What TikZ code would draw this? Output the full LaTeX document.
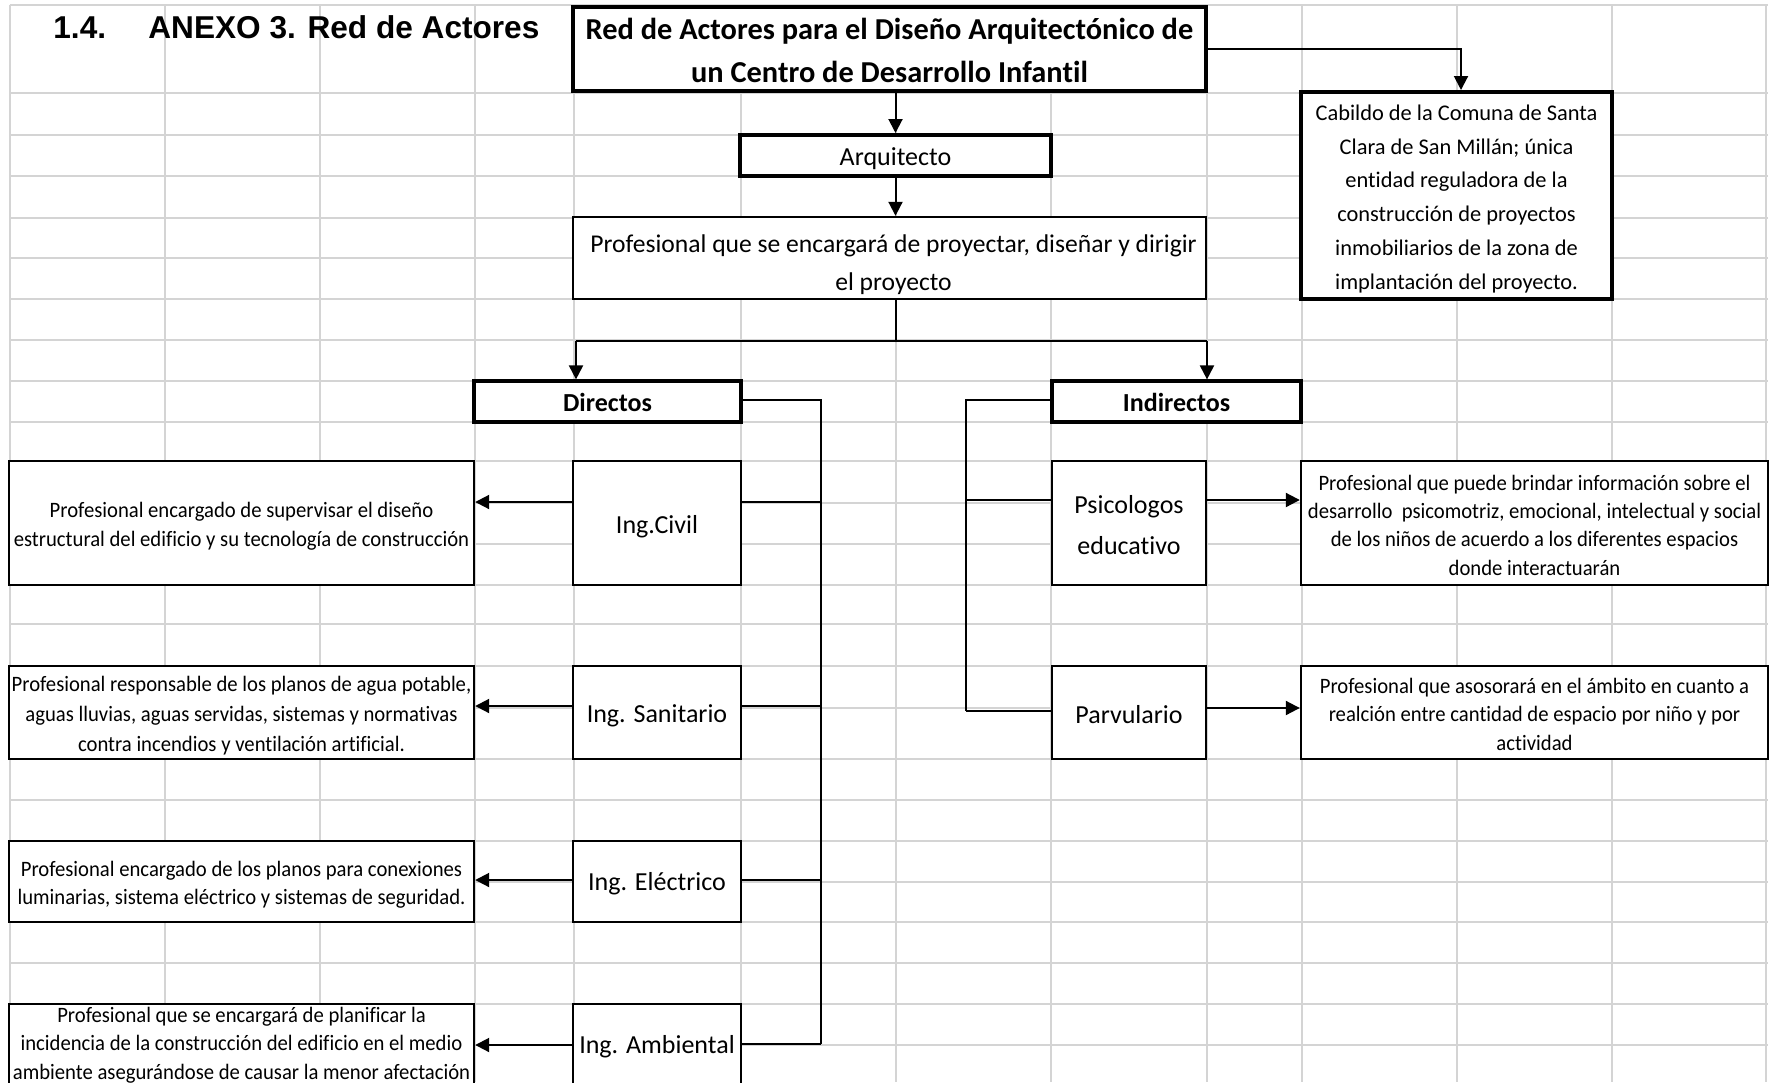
\documentclass[tikz,border=0pt]{standalone}
\usepackage{fontspec}
\setmainfont{Carlito}[Ligatures=NoCommon]
\newfontfamily\arialf{Liberation Sans}
\newfontfamily\condf{Carlito}[FakeStretch=0.94, Ligatures=NoCommon]
\usetikzlibrary{arrows.meta}
\definecolor{gridgray}{HTML}{D4D4D4}
\begin{document}
\begin{tikzpicture}[x=0.5pt,y=-0.5pt,
  gridline/.style={draw=gridgray, line width=1pt},
  box/.style={draw=black, fill=white, inner sep=0pt, line width=1.2pt},
  thickbox/.style={box, line width=2pt},
  midbox/.style={box, line width=1.6pt},
  txt/.style={inner sep=0pt, align=center},
  arr/.style={-{Triangle[length=7pt,width=7pt]}, line width=1pt},
  link/.style={line width=0.7pt},
  desc/.style={txt, font=\condf\fontsize{11}{14.2}\selectfont},
  lab/.style={txt, font=\fontsize{13}{20.4}\selectfont},
  boldlab/.style={txt, font=\bfseries\fontsize{13}{16}\selectfont}]
\useasboundingbox (0,0) rectangle (1777,1082);
\clip (0,0) rectangle (1777,1082);
\fill[white] (0,0) rectangle (1777,1082);
% spreadsheet grid
\foreach \gx in {9.6,165,320,474.5,574,741,896,1051,1207,1302,1457,1612,1766}
  \draw[gridline] (\gx,5) -- (\gx,1082);
\foreach \gy in {5,93,135,176,218,258,299,340,381,422,461,503,544,585,624,666,708,759,800,841,882,922,963,1004,1045}
  \draw[gridline] (9.6,\gy) -- (1768,\gy);
% heading
\node[anchor=base west, inner sep=0pt, font=\arialf\bfseries\fontsize{15.8}{19}\selectfont] (num) at (53,38.5) {1.4.};
\node[anchor=base west, inner sep=0pt, font=\arialf\bfseries\fontsize{15.8}{19}\selectfont] (anexo) at (148,38.5) {ANEXO 3. Red de Actores};
% boxes (frames)
\node[thickbox, minimum width=316.5pt, minimum height=42pt] (title) at (889.5,49) {};
\node[thickbox, minimum width=155.5pt, minimum height=20.5pt] (arq) at (895.5,155.5) {};
\node[box, minimum width=316.5pt, minimum height=41pt] (prof) at (889.5,258) {};
\node[thickbox, minimum width=155.5pt, minimum height=103.5pt] (cab) at (1456.5,195.5) {};
\node[midbox, minimum width=133.5pt, minimum height=20.5pt] (dir) at (607.5,401.5) {};
\node[midbox, minimum width=124.5pt, minimum height=20.5pt] (ind) at (1176.5,401.5) {};
\node[box, minimum width=84pt, minimum height=62pt] (civil) at (657,523) {};
\node[box, minimum width=232.5pt, minimum height=62pt] (civdesc) at (241.5,523) {};
\node[box, minimum width=84pt, minimum height=46.5pt] (san) at (657,712.5) {};
\node[box, minimum width=232.5pt, minimum height=46.5pt] (sandesc) at (241.5,712.5) {};
\node[box, minimum width=84pt, minimum height=40.5pt] (ele) at (657,881.5) {};
\node[box, minimum width=232.5pt, minimum height=40.5pt] (eledesc) at (241.5,881.5) {};
\node[box, minimum width=84pt, minimum height=40pt] (amb) at (657,1044) {};
\node[box, minimum width=232.5pt, minimum height=40pt] (ambdesc) at (241.5,1044) {};
\node[box, minimum width=77pt, minimum height=62pt] (psi) at (1129,523) {};
\node[box, minimum width=233.5pt, minimum height=62pt] (psidesc) at (1534.5,523) {};
\node[box, minimum width=77pt, minimum height=46.5pt] (par) at (1129,712.5) {};
\node[box, minimum width=233.5pt, minimum height=46.5pt] (pardesc) at (1534.5,712.5) {};
% texts
\node[txt, font=\bfseries\fontsize{15.2}{21.5}\selectfont] (titleT) at ([yshift=-0.5pt]title.center)
  {Red de Actores para el Diseño Arquitectónico de\\un Centro de Desarrollo Infantil};
\node[lab] (arqT) at ([yshift=-1.7pt]arq.center) {Arquitecto};
\node[txt, font=\fontsize{12.8}{18.7}\selectfont] (profT) at ([xshift=2pt,yshift=-3.4pt]prof.center)
  {Profesional que se encargará de proyectar, diseñar y dirigir\\el proyecto};
\node[txt, font=\fontsize{11.2}{16.9}\selectfont] (cabT) at ([yshift=-1.7pt]cab.center)
  {Cabildo de la Comuna de Santa\\Clara de San Millán; única\\entidad reguladora de la\\construcción de proyectos\\inmobiliarios de la zona de\\implantación del proyecto.};
\node[boldlab] (dirT) at ([yshift=-0.6pt]dir.center) {Directos};
\node[boldlab] (indT) at ([yshift=-0.6pt]ind.center) {Indirectos};
\node[lab] (civilT) at ([yshift=-1.7pt]civil.center) {Ing.Civil};
\node[desc] (civdescT) at ([yshift=-1.7pt]civdesc.center)
  {Profesional encargado de supervisar el diseño\\estructural del edificio y su tecnología de construcción};
\node[lab] (sanT) at ([yshift=-1.7pt]san.center) {Ing. Sanitario};
\node[desc, font=\condf\fontsize{11}{14.9}\selectfont] (sandescT) at ([yshift=-1.5pt]sandesc.center)
  {Profesional responsable de los planos de agua potable,\\aguas lluvias, aguas servidas, sistemas y normativas\\contra incendios y ventilación artificial.};
\node[lab] (eleT) at ([yshift=-1.1pt]ele.center) {Ing. Eléctrico};
\node[desc] (eledescT) at ([yshift=-1.7pt]eledesc.center)
  {Profesional encargado de los planos para conexiones\\luminarias, sistema eléctrico y sistemas de seguridad.};
\node[lab] (ambT) at ([yshift=-1.1pt]amb.center) {Ing. Ambiental};
\node[desc] (ambdescT) at ([yshift=-0.5pt]ambdesc.center)
  {Profesional que se encargará de planificar la\\incidencia de la construcción del edificio en el medio\\ambiente asegurándose de causar la menor afectación};
\node[lab] (psiT) at ([yshift=-1.1pt]psi.center) {Psicologos\\educativo};
\node[desc] (psidescT) at ([yshift=-1.1pt]psidesc.center)
  {Profesional que puede brindar información sobre el\\desarrollo\ \ psicomotriz, emocional, intelectual y social\\de los niños de acuerdo a los diferentes espacios\\donde interactuarán};
\node[lab] (parT) at ([yshift=-1.1pt]par.center) {Parvulario};
\node[desc] (pardescT) at ([yshift=-0.9pt]pardesc.center)
  {Profesional que asosorará en el ámbito en cuanto a\\realción entre cantidad de espacio por niño y por\\actividad};
% helper coordinates
\coordinate (split) at (895.5,341);
\coordinate (dL) at (576,341);
\coordinate (dR) at (1207,341);
\coordinate (cabx) at (1461,49);
\coordinate (dtop) at (821,400);
\coordinate (dbot) at (821,1044);
\coordinate (itop) at (966,400);
\coordinate (ibot) at (966,711);
\coordinate (yciv) at (0,502);
\coordinate (ysan) at (0,706);
\coordinate (yele) at (0,880);
\coordinate (yamb) at (0,1045);
\coordinate (ypsi) at (0,500);
\coordinate (ypar) at (0,708);
% top connectors
\draw[arr] (title.south -| arq.north) -- (arq.north);
\draw[arr] (title.east |- cabx) -- (cabx) -- (cabx |- cab.north);
\draw[arr] (arq.south) -- (arq.south |- prof.north);
\draw[line width=1pt] (prof.south -| split) -- (split);
\draw[line width=1pt] (dL) -- (dR);
\draw[arr] (dL) -- (dL |- dir.north);
\draw[arr] (dR) -- (dR |- ind.north);
% directos trunk
\draw[link] (dir.east |- dtop) -- (dtop) -- (dbot);
\draw[link] (dtop |- yciv) -- (civil.east |- yciv);
\draw[link] (dtop |- ysan) -- (san.east |- ysan);
\draw[link] (dtop |- yele) -- (ele.east |- yele);
\draw[link] (dbot) -- (amb.east |- dbot);
\draw[arr] (civil.west |- yciv) -- (civdesc.east |- yciv);
\draw[arr] (san.west |- ysan) -- (sandesc.east |- ysan);
\draw[arr] (ele.west |- yele) -- (eledesc.east |- yele);
\draw[arr] (amb.west |- yamb) -- (ambdesc.east |- yamb);
% indirectos trunk
\draw[link] (ind.west |- itop) -- (itop) -- (ibot);
\draw[link] (itop |- ypsi) -- (psi.west |- ypsi);
\draw[link] (ibot) -- (par.west |- ibot);
\draw[arr] (psi.east |- ypsi) -- (psidesc.west |- ypsi);
\draw[arr] (par.east |- ypar) -- (pardesc.west |- ypar);
\end{tikzpicture}
\end{document}
